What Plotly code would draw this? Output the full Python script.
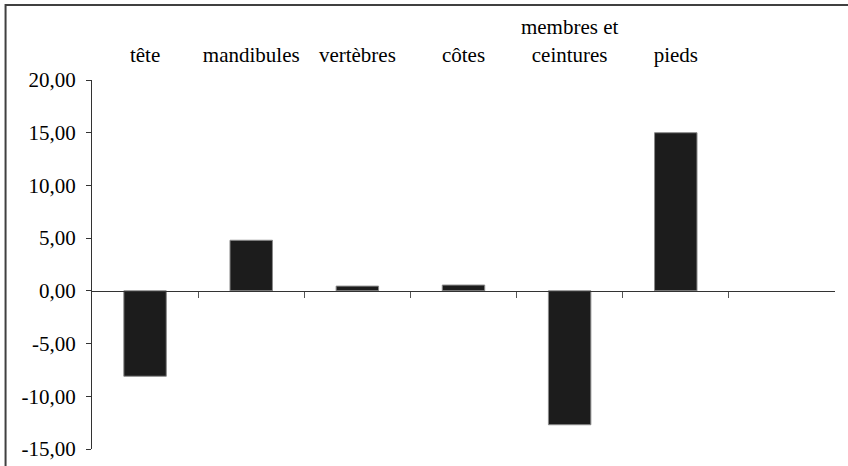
import plotly.graph_objects as go

categories = ["tête", "mandibules", "vertèbres", "côtes", "membres et<br>ceintures", "pieds"]
values = [-8.1, 4.8, 0.45, 0.55, -12.7, 15.0]
y_ticks = [-15, -10, -5, 0, 5, 10, 15, 20]
y_tick_labels = [f"{v:.2f}".replace(".", ",") for v in y_ticks]

W, H = 848, 466
L, R, T, B = 91.5, 13, 80, 17.3
pw = W - L - R
ph = H - T - B

xpos = list(range(len(categories)))

fig = go.Figure()
fig.add_trace(go.Bar(
    x=xpos, y=values,
    marker=dict(color="#1c1c1c", line=dict(color="#8a8a8a", width=1)),
    width=0.4,
    xaxis="x", yaxis="y",
    showlegend=False,
))
# invisible trace for the top (label) axis
fig.add_trace(go.Scatter(x=xpos, y=[0]*len(xpos), xaxis="x2", yaxis="y",
                         mode="markers", marker=dict(opacity=0), showlegend=False,
                         hoverinfo="skip"))

font = dict(family="Times New Roman, Liberation Serif, serif", size=21, color="black")

fig.update_layout(
    width=W, height=H,
    margin=dict(l=L, r=R, t=T, b=B, pad=0),
    paper_bgcolor="white", plot_bgcolor="white",
    font=font,
    xaxis=dict(
        range=[-0.5, 6.5],
        anchor="free", position=15/35,
        showline=True, linecolor="#333333", linewidth=1,
        ticks="outside", ticklen=6, tickcolor="#555555",
        tickvals=[0.5, 1.5, 2.5, 3.5, 4.5, 5.5],
        showticklabels=False, showgrid=False, zeroline=False,
        automargin=False,
    ),
    xaxis2=dict(
        range=[-0.5, 6.5], overlaying="x", side="top", anchor="y",
        tickvals=xpos, ticktext=categories,
        ticks="outside", ticklen=9, tickcolor="rgba(0,0,0,0)",
        showline=False, showgrid=False, zeroline=False,
        tickfont=font, automargin=False,
    ),
    yaxis=dict(
        range=[-15, 20],
        tickvals=y_ticks, ticktext=y_tick_labels,
        showline=True, linecolor="#333333", linewidth=1,
        ticks="outside", ticklen=5, tickcolor="#333333",
        ticklabelstandoff=6,
        showgrid=False, zeroline=False,
        tickfont=font, automargin=False,
    ),
    bargap=0.6,
    shapes=[dict(
        type="rect", xref="paper", yref="paper",
        x0=(5 - L) / pw, x1=(850 - L) / pw,
        y0=(H - B - 470) / ph, y1=(H - B - 5) / ph,
        line=dict(color="#404040", width=2), fillcolor="rgba(0,0,0,0)", layer="below",
    )],
)

fig.write_html("out.html", config={"displayModeBar": False},
               post_script="document.body.style.margin='0';document.body.style.overflow='hidden';")
